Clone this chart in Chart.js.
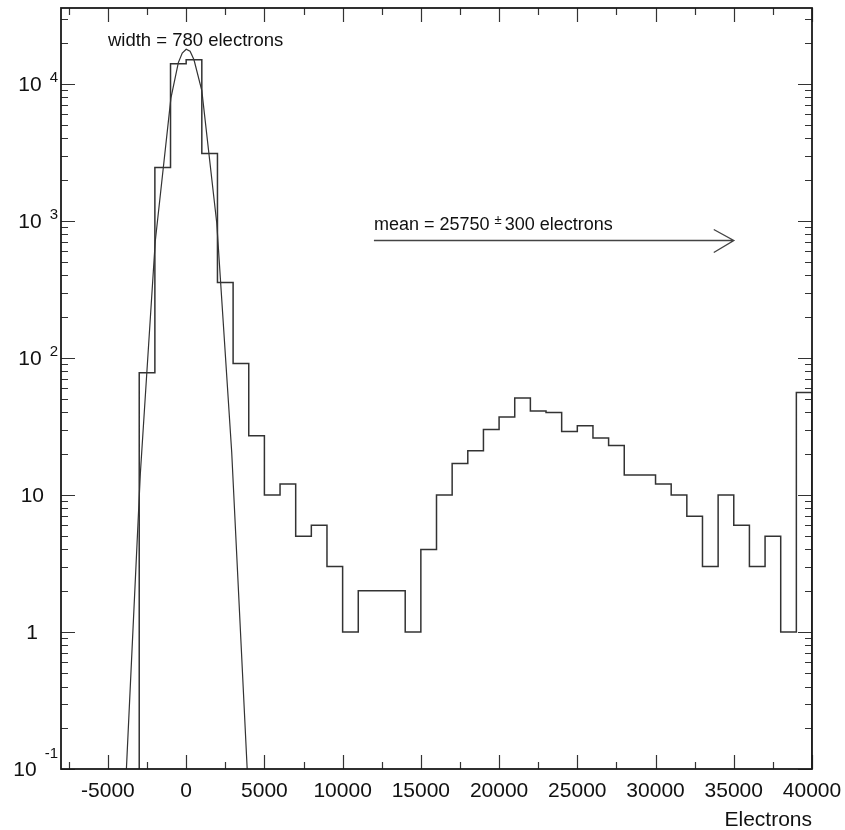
<!DOCTYPE html>
<html>
<head>
<meta charset="utf-8">
<script src="https://cdn.jsdelivr.net/npm/chart.js@4.4.0/dist/chart.umd.min.js"></script>
<style>
  html, body { margin: 0; padding: 0; background: #fff; }
  #wrap { width: 845px; height: 830px; }
</style>
</head>
<body>
<div id="wrap"><canvas id="c" width="845" height="830"></canvas></div>
<script>
// --- DATA ---
// histogram: lower edge of each 1000-electron bin, and its count
const binLow = [-3000, -2000, -1000, 0, 1000, 2000, 3000, 4000, 5000, 6000, 7000, 8000, 9000,
    10000, 11000, 12000, 13000, 14000, 15000, 16000, 17000, 18000, 19000, 20000, 21000, 22000,
    23000, 24000, 25000, 26000, 27000, 28000, 29000, 30000, 31000, 32000, 33000, 34000, 35000,
    36000, 37000, 38000, 39000];
const counts = [78, 2450, 14000, 15000, 3100, 355, 91, 27, 10, 12, 5, 6, 3,
    1, 2, 2, 2, 1, 4, 10, 17, 21, 30, 37, 51, 41,
    40, 29, 32, 26, 23, 14, 14, 12, 10, 7, 3, 10, 6,
    3, 5, 1, 56];
const histHigh = 40000;
// empty bins sit below the log axis; drawn this low so they get clipped
const emptyLevel = 0.001;

// pedestal fit curve
const fitX = [-3820, -2930, -1975, -975, -500, -250, 0, 250, 500, 1000, 1955, 2910, 3900];
const fitY = [0.1, 14.2, 710, 7870, 14300, 16800, 17900, 17300, 15000, 8940, 966, 20.6, 0.1];

// axes
const xRange = [-8000, 40000];
const yRange = [0.1, 35800];
const xMajor = [-5000, 0, 5000, 10000, 15000, 20000, 25000, 30000, 35000, 40000];
const xMinor = [-7500, -2500, 2500, 7500, 12500, 17500, 22500, 27500, 32500, 37500];
const xLabels = ['-5000', '0', '5000', '10000', '15000', '20000', '25000', '30000', '35000', '40000'];
const yMajor = [0.1, 1, 10, 100, 1000, 10000];
const yBase = ['10', '1', '10', '10', '10', '10'];
const yExp = ['-1', '', '', '2', '3', '4'];
const xTitle = 'Electrons';

// annotations (data coordinates)
const widthText = 'width = 780 electrons';
const widthAt = [-5000, 18900];
const meanText = ['mean = 25750 ', '\u00b1', ' 300 electrons'];
const meanAt = [12000, 864];
const arrowFrom = 12000, arrowTo = 35000, arrowLevel = 730;

const FONT = '"Liberation Sans", Arial, Helvetica, sans-serif';

// --- ROOT-LIKE FRAME, TICKS, LABELS ---
const rootAxes = {
    id: 'rootAxes',
    afterDraw(chart) {
        const { ctx, chartArea: a, scales: { x, y } } = chart;
        ctx.save();

        // ticks, inside on all four sides
        ctx.strokeStyle = '#333'; ctx.lineWidth = 1.2;
        const vtick = (v, len) => {
            const px = Math.round(x.getPixelForValue(v)) + 0.5;
            ctx.beginPath();
            ctx.moveTo(px, a.bottom); ctx.lineTo(px, a.bottom - len);
            ctx.moveTo(px, a.top); ctx.lineTo(px, a.top + len);
            ctx.stroke();
        };
        const htick = (v, len) => {
            const py = Math.round(y.getPixelForValue(v)) + 0.5;
            ctx.beginPath();
            ctx.moveTo(a.left, py); ctx.lineTo(a.left + len, py);
            ctx.moveTo(a.right, py); ctx.lineTo(a.right - len, py);
            ctx.stroke();
        };
        xMajor.forEach(v => vtick(v, 14));
        xMinor.forEach(v => vtick(v, 7));
        yMajor.forEach(d => {
            htick(d, 14);
            for (let k = 2; k <= 9; k++) if (k * d <= yRange[1]) htick(k * d, 7);
        });

        // frame
        ctx.strokeStyle = '#1a1a1a'; ctx.lineWidth = 1.8;
        ctx.strokeRect(a.left, a.top, a.right - a.left, a.bottom - a.top);

        // x labels
        ctx.fillStyle = '#111';
        ctx.font = '21px ' + FONT;
        ctx.textAlign = 'center'; ctx.textBaseline = 'alphabetic';
        xMajor.forEach((v, i) => ctx.fillText(xLabels[i], x.getPixelForValue(v), a.bottom + 28));
        ctx.textAlign = 'right';
        ctx.fillText(xTitle, a.right, a.bottom + 57);

        // y labels: 10 with exponent
        ctx.textBaseline = 'middle';
        yMajor.forEach((v, i) => {
            const py = y.getPixelForValue(v) + 1.5;
            if (yExp[i]) {
                ctx.font = '15px ' + FONT;
                ctx.textAlign = 'right';
                const raise = yExp[i].startsWith('-') ? 17 : 8;
                ctx.fillText(yExp[i], a.left - 3, py - raise);
                const ew = ctx.measureText(yExp[i]).width;
                ctx.font = '21px ' + FONT;
                ctx.fillText(yBase[i], a.left - 3 - ew - 8, py);
            } else {
                ctx.font = '21px ' + FONT;
                ctx.textAlign = 'right';
                ctx.fillText(yBase[i], yBase[i] === '1' ? a.left - 23 : a.left - 17, py);
            }
        });

        // annotations
        ctx.textBaseline = 'alphabetic'; ctx.textAlign = 'left';
        ctx.font = '18.5px ' + FONT;
        ctx.fillText(widthText, x.getPixelForValue(widthAt[0]), y.getPixelForValue(widthAt[1]));

        let tx = x.getPixelForValue(meanAt[0]);
        const ty = y.getPixelForValue(meanAt[1]);
        ctx.font = '18px ' + FONT;
        ctx.fillText(meanText[0], tx, ty); tx += ctx.measureText(meanText[0]).width;
        ctx.font = '13px ' + FONT;
        ctx.fillText(meanText[1], tx, ty - 6); tx += ctx.measureText(meanText[1]).width - 2;
        ctx.font = '18px ' + FONT;
        ctx.fillText(meanText[2], tx, ty);

        // arrow
        const ax0 = x.getPixelForValue(arrowFrom), ax1 = x.getPixelForValue(arrowTo);
        const ay = Math.round(y.getPixelForValue(arrowLevel)) + 0.5;
        ctx.strokeStyle = '#444'; ctx.lineWidth = 1.4;
        ctx.beginPath();
        ctx.moveTo(ax0, ay); ctx.lineTo(ax1, ay);
        ctx.moveTo(ax1 - 20, ay - 11); ctx.lineTo(ax1, ay); ctx.lineTo(ax1 - 20, ay + 12);
        ctx.stroke();

        ctx.restore();
    }
};

// --- CHART ---
const histPts = [{ x: binLow[0], y: emptyLevel }]
    .concat(binLow.map((b, i) => ({ x: b, y: counts[i] })))
    .concat([{ x: histHigh, y: emptyLevel }]);
const fitPts = fitX.map((v, i) => ({ x: v, y: fitY[i] }));

new Chart(document.getElementById('c').getContext('2d'), {
    type: 'scatter',
    data: {
        datasets: [
            { data: histPts, showLine: true, stepped: true, borderColor: '#333', borderWidth: 1.5, pointRadius: 0, fill: false },
            { data: fitPts, showLine: true, tension: 0, borderColor: '#333', borderWidth: 1.2, pointRadius: 0, fill: false }
        ]
    },
    options: {
        responsive: false,
        animation: false,
        events: [],
        layout: { padding: { left: 61, right: 33, top: 8, bottom: 61 } },
        plugins: { legend: { display: false }, tooltip: { enabled: false } },
        scales: {
            x: { type: 'linear', display: false, bounds: 'data', min: xRange[0], max: xRange[1] },
            y: { type: 'logarithmic', display: false, bounds: 'data', min: yRange[0], max: yRange[1] }
        }
    },
    plugins: [rootAxes]
});
</script>
</body>
</html>
